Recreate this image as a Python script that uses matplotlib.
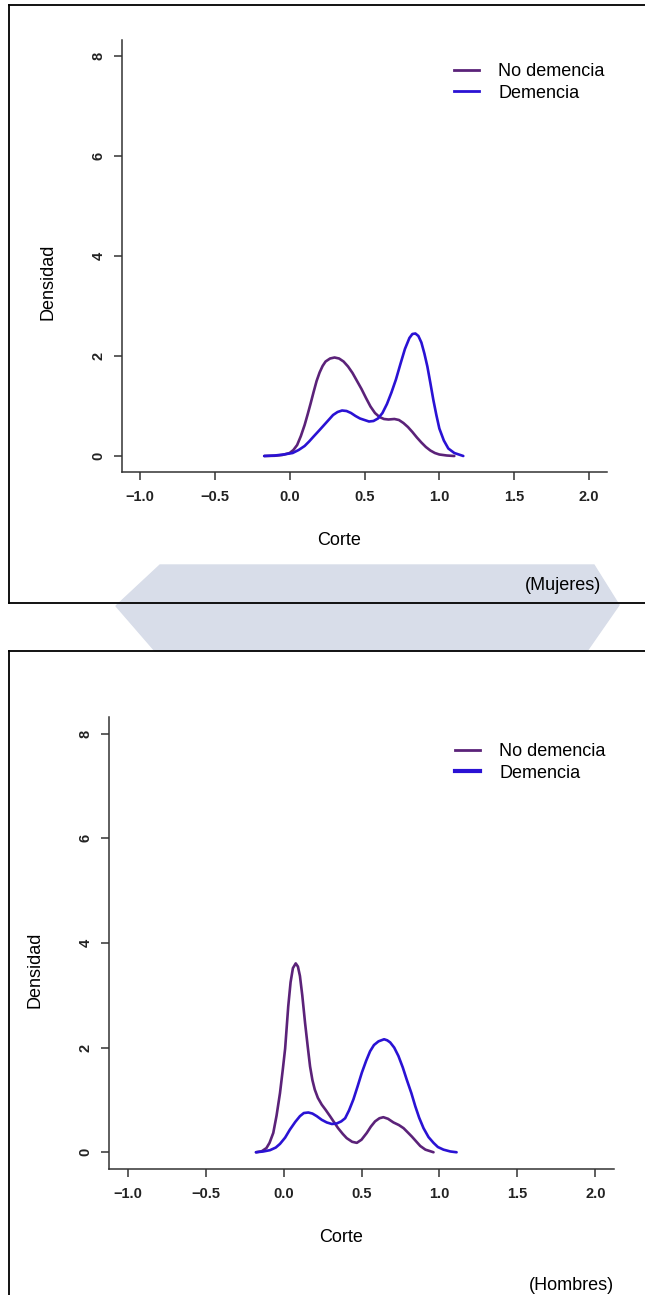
import matplotlib
matplotlib.use("Agg")
import matplotlib.pyplot as plt
import matplotlib.lines as lines
import matplotlib.patches as mpatches

plt.rcParams['font.family'] = ['Liberation Sans', 'DejaVu Sans']

# density curves
# Mujeres (top panel)
muj_no_x = [-0.17, -0.10, -0.05, 0.0, 0.025, 0.05, 0.075, 0.10, 0.12, 0.14, 0.16, 0.18, 0.20,
            0.22, 0.24, 0.27, 0.30, 0.33, 0.36, 0.39, 0.42, 0.45, 0.48, 0.51, 0.54, 0.57,
            0.60, 0.63, 0.66, 0.70, 0.73, 0.76, 0.79, 0.82, 0.85, 0.88, 0.91, 0.94, 0.97,
            1.00, 1.05, 1.10]
muj_no_y = [0.0, 0.005, 0.02, 0.06, 0.12, 0.22, 0.40, 0.62, 0.83, 1.05, 1.28, 1.50, 1.67,
            1.80, 1.89, 1.95, 1.97, 1.95, 1.89, 1.79, 1.66, 1.50, 1.34, 1.16, 0.99, 0.86,
            0.78, 0.74, 0.73, 0.74, 0.72, 0.66, 0.58, 0.48, 0.37, 0.27, 0.18, 0.11, 0.06,
            0.03, 0.01, 0.0]
muj_de_x = [-0.17, -0.10, -0.04, 0.02, 0.06, 0.10, 0.13, 0.16, 0.20, 0.23, 0.26, 0.29, 0.32,
            0.35, 0.38, 0.41, 0.44, 0.47, 0.50, 0.53, 0.56, 0.59, 0.62, 0.65, 0.68, 0.71,
            0.74, 0.77, 0.80, 0.82, 0.84, 0.86, 0.88, 0.90, 0.92, 0.94, 0.96, 0.98, 1.00,
            1.03, 1.06, 1.10, 1.16]
muj_de_y = [0.0, 0.01, 0.03, 0.06, 0.12, 0.20, 0.29, 0.39, 0.52, 0.62, 0.72, 0.82, 0.88,
            0.91, 0.90, 0.86, 0.80, 0.75, 0.72, 0.69, 0.70, 0.75, 0.86, 1.04, 1.27, 1.53,
            1.84, 2.14, 2.36, 2.44, 2.45, 2.40, 2.27, 2.05, 1.79, 1.46, 1.12, 0.82, 0.55,
            0.31, 0.15, 0.06, 0.0]

# Hombres (bottom panel)
hom_no_x = [-0.177, -0.14, -0.11, -0.09, -0.066, -0.045, -0.023, -0.005, 0.01, 0.03, 0.045,
            0.06, 0.078, 0.092, 0.105, 0.12, 0.138, 0.155, 0.17, 0.185, 0.20, 0.22, 0.245,
            0.27, 0.298, 0.325, 0.35, 0.38, 0.405, 0.44, 0.47, 0.50, 0.534, 0.56, 0.587,
            0.615, 0.64, 0.67, 0.705, 0.74, 0.77, 0.80, 0.823, 0.85, 0.877, 0.91, 0.962]
hom_no_y = [0.0, 0.02, 0.08, 0.18, 0.37, 0.70, 1.13, 1.58, 1.98, 2.79, 3.25,
            3.52, 3.61, 3.55, 3.37, 3.00, 2.47, 2.02, 1.64, 1.38, 1.20, 1.04, 0.91,
            0.81, 0.69, 0.57, 0.46, 0.35, 0.27, 0.20, 0.18, 0.24, 0.37, 0.49, 0.59,
            0.65, 0.67, 0.64, 0.57, 0.52, 0.46, 0.37, 0.30, 0.21, 0.12, 0.05, 0.0]
hom_de_x = [-0.177, -0.13, -0.087, -0.05, -0.023, 0.01, 0.04, 0.075, 0.105, 0.13, 0.159,
            0.185, 0.213, 0.245, 0.277, 0.31, 0.341, 0.37, 0.395, 0.42, 0.448, 0.475, 0.502,
            0.53, 0.555, 0.58, 0.609, 0.645, 0.665, 0.684, 0.71, 0.737, 0.765, 0.79, 0.82,
            0.845, 0.87, 0.898, 0.93, 0.962, 0.99, 1.026, 1.07, 1.11]
hom_de_y = [0.0, 0.015, 0.04, 0.09, 0.16, 0.28, 0.43, 0.58, 0.69, 0.75, 0.76,
            0.74, 0.69, 0.62, 0.57, 0.54, 0.55, 0.59, 0.65, 0.80, 1.01, 1.26, 1.52,
            1.75, 1.93, 2.05, 2.12, 2.16, 2.14, 2.10, 2.00, 1.84, 1.62, 1.39, 1.13,
            0.88, 0.66, 0.46, 0.29, 0.18, 0.10, 0.05, 0.015, 0.0]

LABELS = ['No demencia', 'Demencia']
COLORS = ['#5b2279', '#2a12d4']
X_TICKS = [-1.0, -0.5, 0.0, 0.5, 1.0, 1.5, 2.0]
Y_TICKS = [0, 2, 4, 6, 8]

W, H = 645, 1295


def fx(px):
    return px / W


def fy(py):
    return 1 - py / H


fig = plt.figure(figsize=(W / 100, H / 100), dpi=100)

# faint watermark band between the two panels
band = mpatches.Polygon(
    [(fx(116), fy(606)), (fx(160), fy(565)), (fx(594), fy(565)),
     (fx(619), fy(605)), (fx(587), fy(651)), (fx(155), fy(651))],
    closed=True, transform=fig.transFigure, color='#d8dde9', zorder=0)
fig.patches.append(band)

# panel frames
frame_kw = dict(transform=fig.transFigure, color='black', linewidth=1.3)
fig.lines.append(lines.Line2D([fx(9), 1], [fy(5), fy(5)], **frame_kw))
fig.lines.append(lines.Line2D([fx(9), fx(9)], [fy(5), fy(603)], **frame_kw))
fig.lines.append(lines.Line2D([fx(9), 1], [fy(603), fy(603)], **frame_kw))
fig.lines.append(lines.Line2D([fx(9), 1], [fy(651), fy(651)], **frame_kw))
fig.lines.append(lines.Line2D([fx(9), fx(9)], [fy(651), 0], **frame_kw))

panels = [
    # axes box (left, right, top, bottom px), curves, tag, text positions
    dict(box=(122, 607, 40, 472), curves=[(muj_no_x, muj_no_y), (muj_de_x, muj_de_y)],
         tag='(Mujeres)', tag_pos=(601, 585), ylab=(48, 282), xlab=(339, 540),
         leg=(454, 63), lw_leg=[2.0, 2.0]),
    dict(box=(109, 614, 717, 1169), curves=[(hom_no_x, hom_no_y), (hom_de_x, hom_de_y)],
         tag='(Hombres)', tag_pos=(614, 1285), ylab=(35, 970), xlab=(341, 1237),
         leg=(455, 743), lw_leg=[2.0, 3.0]),
]

for p in panels:
    l, r, t, b = p['box']
    ax = fig.add_axes([fx(l), fy(b), fx(r) - fx(l), fy(t) - fy(b)])
    for (x, y), color, label in zip(p['curves'], COLORS, LABELS):
        ax.plot(x, y, color=color, linewidth=1.9, label=label,
                solid_capstyle='round', solid_joinstyle='round')

    ax.set_xlim(-1.12, 2.12)
    ax.set_ylim(-0.32, 8.32)
    ax.set_xticks(X_TICKS)
    ax.set_xticklabels([f'{v:.1f}'.replace('-', '\u2212') for v in X_TICKS])
    ax.set_yticks(Y_TICKS)
    ax.set_yticklabels([str(v) for v in Y_TICKS], rotation=90, va='center')
    for side in ['top', 'right']:
        ax.spines[side].set_visible(False)
    for side in ['left', 'bottom']:
        ax.spines[side].set_color('#333333')
        ax.spines[side].set_linewidth(1.1)
    ax.tick_params(axis='both', length=6, width=1.1, color='#333333',
                   labelsize=10.5, labelcolor='#222222')
    ax.tick_params(axis='x', pad=7)
    ax.tick_params(axis='y', pad=6)
    for lab in ax.get_xticklabels() + ax.get_yticklabels():
        lab.set_fontweight('bold')

    handles = [lines.Line2D([0], [0], color=c, linewidth=lw) for c, lw in zip(COLORS, p['lw_leg'])]
    ax.legend(handles, LABELS, loc='upper left', frameon=False, fontsize=13,
              bbox_to_anchor=(fx(p['leg'][0]), fy(p['leg'][1])), bbox_transform=fig.transFigure,
              borderaxespad=0, borderpad=0, handlelength=1.4, handletextpad=1.05,
              labelspacing=0.25)

    fig.text(fx(p['ylab'][0]), fy(p['ylab'][1]), 'Densidad', rotation=90,
             ha='center', va='center', fontsize=13)
    fig.text(fx(p['xlab'][0]), fy(p['xlab'][1]), 'Corte', ha='center', va='center', fontsize=13)
    fig.text(fx(p['tag_pos'][0]), fy(p['tag_pos'][1]), p['tag'], ha='right', va='center',
             fontsize=13)

fig.savefig('out.png', dpi=100)
